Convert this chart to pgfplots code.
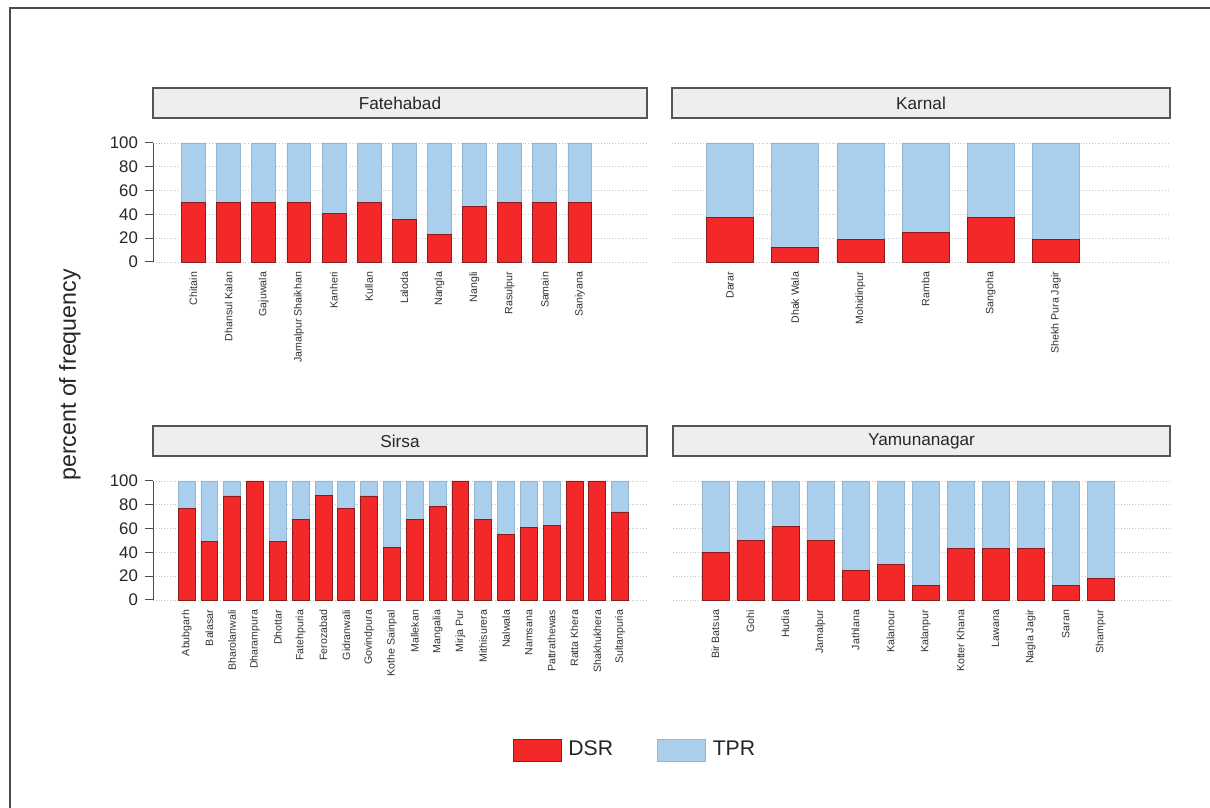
\documentclass[border=0pt]{standalone}
\usepackage{pgfplots}
\pgfplotsset{compat=1.18}
\usepackage{fontspec}
\setmainfont{Liberation Sans}
\definecolor{dsr}{RGB}{243,40,40}
\definecolor{dsrline}{RGB}{140,28,28}
\definecolor{tpr}{RGB}{170,207,236}
\definecolor{tprline}{RGB}{150,182,208}
\definecolor{stripfill}{RGB}{238,238,238}
\definecolor{stripline}{RGB}{85,85,85}
\pgfplotsset{
  panel/.style={
    scale only axis, height=59.5pt, anchor=south west,
    ymin=0, ymax=100, ybar stacked, bar shift=0pt,
    ymajorgrids, grid style={densely dotted, gray!45, line width=0.45pt},
    ytick={0,20,...,100}, xtick=data,
    x tick label style={rotate=90, anchor=east, font=\fontsize{5.3}{6.3}\selectfont, text=black!80},
    xticklabel shift=-2.5pt,
    y tick label style={font=\fontsize{8.4}{10}\selectfont, text=black!85},
    /pgf/number format/assume math mode=true,
    axis x line*=bottom, axis y line*=left,
    x axis line style={draw=none}, major x tick style={draw=none},
    y axis line style={draw=black!70, line width=0.5pt},
    major y tick style={draw=black!70, line width=0.5pt},
    tick align=outside, major tick length=4pt,
    clip=false,
  },
  norightaxis/.style={yticklabels={}, y axis line style={draw=none}, major y tick style={draw=none}},
  dsrbar/.style={fill=dsr, draw=dsrline, line width=0.35pt},
  tprbar/.style={fill=tpr, draw=tprline, line width=0.35pt},
}
\begin{document}
\begin{tikzpicture}
\useasboundingbox (0,0) rectangle (605pt,404pt);
\fill[white] (0,0) rectangle (605pt,404pt);
\draw[line width=1pt, black!70] (5pt,0pt) -- (5pt,400pt) -- (605pt,400pt);

% ---------- Fatehabad ----------
\begin{axis}[panel, at={(76.5pt,273pt)}, width=247pt, xmin=-1.15, xmax=12.91, bar width=0.68,
  xticklabels={Chitain,Dhansul Kalan,Gajuwala,Jamalpur Shaikhan,Kanheri,Kullan,Laloda,Nangla,Nangli,Rasulpur,Samain,Saniyana}]
\addplot[dsrbar] coordinates {(0,50) (1,50) (2,50) (3,50) (4,41) (5,50) (6,36) (7,23) (8,47) (9,50) (10,50) (11,50)};
\addplot[tprbar] coordinates {(0,50) (1,50) (2,50) (3,50) (4,59) (5,50) (6,64) (7,77) (8,53) (9,50) (10,50) (11,50)};
\end{axis}

% ---------- Karnal ----------
\begin{axis}[panel, norightaxis, at={(336pt,273pt)}, width=249pt, xmin=-0.89, xmax=6.75, bar width=0.72,
  xticklabels={Darar,Dhak Wala,Mohidinpur,Ramba,Sangoha,Shekh Pura Jagir}]
\addplot[dsrbar] coordinates {(0,37.5) (1,12.5) (2,18.75) (3,25) (4,37.5) (5,18.75)};
\addplot[tprbar] coordinates {(0,62.5) (1,87.5) (2,81.25) (3,75) (4,62.5) (5,81.25)};
\end{axis}

% ---------- Sirsa ----------
\begin{axis}[panel, at={(76.5pt,104pt)}, width=247pt, xmin=-1.47, xmax=20.18, bar width=0.74,
  xticklabels={Abubgarh,Balasar,Bharolanwali,Dharampura,Dhottar,Fatehpuria,Ferozabad,Gidranwali,Govindpura,Kothe Sainpal,Mallekan,Mangalia,Mirja Pur,Mithisurera,Nalwala,Namsana,Pattrathewas,Ratta Khera,Shakhukhera,Sultanpuria},
  legend columns=2,
  legend image code/.code={\draw[#1] (0pt,-5.5pt) rectangle (24pt,5.5pt);},
  legend style={draw=none, fill=none, at={(0.715,-1.26)}, anchor=west,
    font=\fontsize{10.6}{12}\selectfont, text=black!85,
    /tikz/every even column/.append style={column sep=20pt},
    /tikz/every odd column/.append style={column sep=1.5pt}}]
\addplot[dsrbar] coordinates {(0,77) (1,49) (2,87.5) (3,100) (4,49) (5,68) (6,88) (7,77) (8,87.5) (9,44) (10,68) (11,78.5) (12,100) (13,68) (14,55) (15,61) (16,63) (17,100) (18,100) (19,74)};
\addlegendentry{DSR}
\addplot[tprbar] coordinates {(0,23) (1,51) (2,12.5) (3,0) (4,51) (5,32) (6,12) (7,23) (8,12.5) (9,56) (10,32) (11,21.5) (12,0) (13,32) (14,45) (15,39) (16,37) (17,0) (18,0) (19,26)};
\addlegendentry{TPR}
\end{axis}

% ---------- Yamunanagar ----------
\begin{axis}[panel, norightaxis, at={(336.5pt,104pt)}, width=248.5pt, xmin=-1.21, xmax=12.98, bar width=0.77,
  xticklabels={Bir Batsua,Gohi,Hudia,Jamalpur,Jathlana,Kalanour,Kalanpur,Kotter Khana,Lawana,Nagla Jagir,Saran,Shampur}]
\addplot[dsrbar] coordinates {(0,40) (1,50) (2,62) (3,50) (4,25) (5,30) (6,12.5) (7,43) (8,43) (9,43) (10,12.5) (11,18)};
\addplot[tprbar] coordinates {(0,60) (1,50) (2,38) (3,50) (4,75) (5,70) (6,87.5) (7,57) (8,57) (9,57) (10,87.5) (11,82)};
\end{axis}

% ---------- strips ----------
\tikzset{strip/.style={draw=stripline, fill=stripfill, line width=0.6pt, minimum height=15pt, inner sep=0pt,
  font=\fontsize{8.6}{10}\selectfont, text=black!85}}
\node[strip, minimum width=247pt] at (200pt,352.5pt) {Fatehabad};
\node[strip, minimum width=249pt] at (460.5pt,352.5pt) {Karnal};
\node[strip, minimum width=247pt] at (200pt,183.5pt) {Sirsa};
\node[strip, minimum width=248.5pt] at (460.75pt,183.5pt) {Yamunanagar};

\node[rotate=90, font=\fontsize{11.6}{13}\selectfont, text=black!85] at (35pt,216.5pt) {percent of frequency};
\end{tikzpicture}
\end{document}
